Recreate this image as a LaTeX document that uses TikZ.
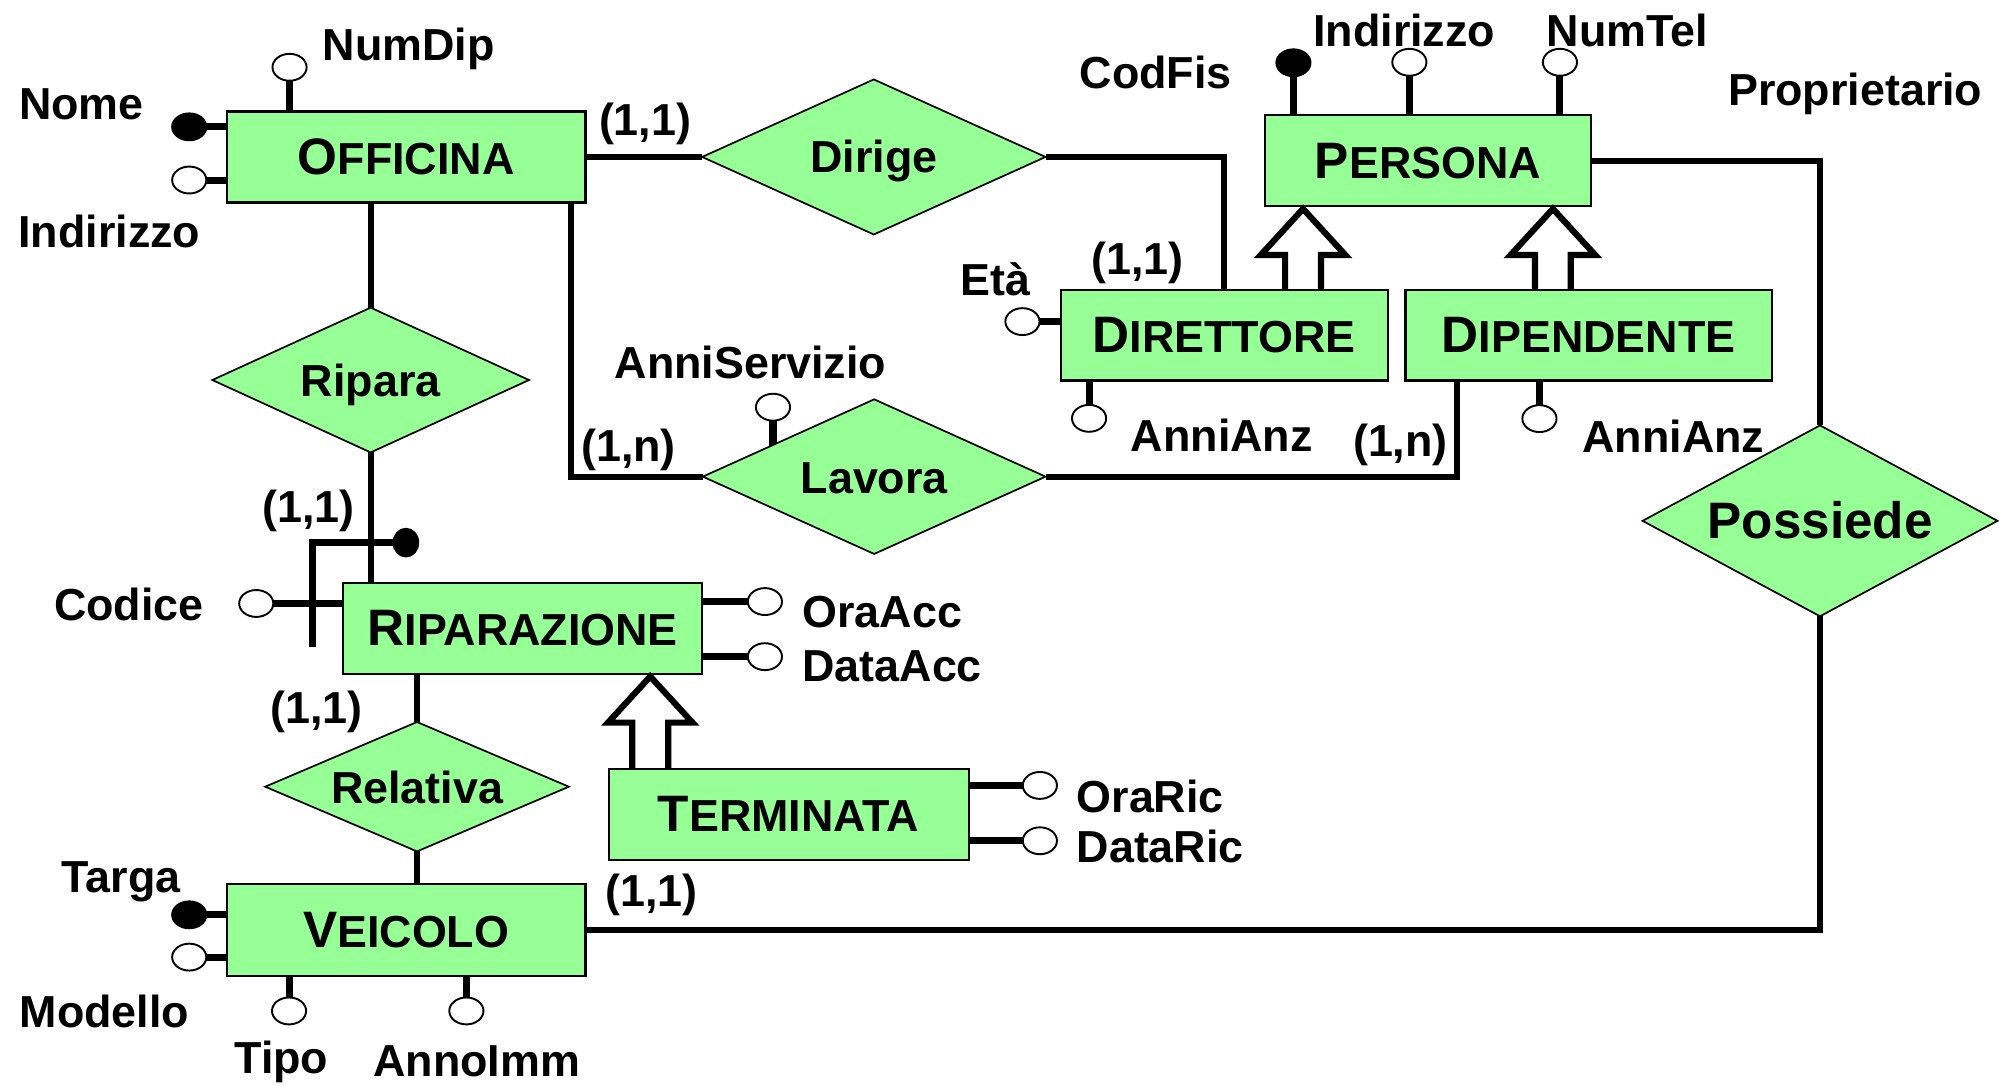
\documentclass[tikz,border=0pt]{standalone}
\usepackage{fontspec}
\setmainfont{Liberation Sans}
\usetikzlibrary{shapes.geometric,calc}
\pgfdeclarelayer{background}
\pgfsetlayers{background,main}
\definecolor{erfill}{RGB}{150,255,150}
% entity names: larger initial, smaller capitals after it
\newcommand{\entname}[2]{{\fontsize{24}{24}\selectfont #1}{\fontsize{21}{21}\selectfont #2}}
% hollow generalisation arrow: #1 = foot on the child, #2 = tip on the parent
\newcommand{\isaarrow}[2]{%
  \draw[isa] ($(#1)+(-14,0)$) |- ($(#2)+(-33,38)$) -- ($(#2)+(0,2)$)
    -- ($(#2)+(33,38)$) -| ($(#1)+(14,0)$);}

\begin{document}
\begin{tikzpicture}[x=0.6pt,y=-0.6pt,
  font=\bfseries\fontsize{21}{21}\selectfont,
  entity/.style={draw, line width=1pt, fill=erfill, rectangle, inner sep=0pt,
    outer sep=0pt, minimum height=42.6pt},
  relship/.style={draw, line width=0.8pt, fill=erfill, diamond, inner sep=0pt,
    outer sep=0pt},
  attrc/.style={draw, line width=0.9pt, fill=white, ellipse, inner sep=0pt,
    outer sep=0pt, minimum width=16pt, minimum height=12.6pt},
  idattr/.style={attrc, fill=black},
  conn/.style={line width=2.9pt, line join=miter},
  stub/.style={line width=3.3pt, line join=miter},
  isa/.style={line width=2.9pt, line join=miter, miter limit=10},
  lbl/.style={inner sep=0pt, anchor=base},
  lblw/.style={inner sep=0pt, anchor=base west},
]
\useasboundingbox (0,0) rectangle (1568,847);

% ---------- entities ----------
\node[entity, minimum width=168pt] (officina) at (317,122.5) {\entname{O}{FFICINA}};
\node[entity, minimum width=153pt] (persona) at (1114.5,125.5) {\entname{P}{ERSONA}};
\node[entity, minimum width=153pt] (direttore) at (955.5,261.5) {\entname{D}{IRETTORE}};
\node[entity, minimum width=171.6pt] (dipendente) at (1240,261.5) {\entname{D}{IPENDENTE}};
\node[entity, minimum width=168pt] (riparazione) at (408,490.5) {\entname{R}{IPARAZIONE}};
\node[entity, minimum width=168.6pt] (terminata) at (615.5,635.5) {\entname{T}{ERMINATA}};
\node[entity, minimum width=168pt, minimum height=43.2pt] (veicolo) at (317,726) {\entname{V}{EICOLO}};

% ---------- relationships ----------
\node[relship, minimum width=160.8pt, minimum height=72.6pt] (dirige) at (682,122.5) {};
\node[relship, minimum width=160.5pt, minimum height=72.4pt] (lavora) at (682.3,372) {};
\node[relship, minimum width=148.3pt, minimum height=67.8pt] (ripara) at (289.3,296.6) {};
\node[relship, minimum width=142.2pt, minimum height=60.6pt] (relativa) at (325.5,614) {};
\node[relship, minimum width=166.2pt, minimum height=89.4pt] (possiede) at (1420.5,406.5) {};

\node[lbl] at ($(dirige.center)+(0,12.5)$) {Dirige};
\node[lbl] at ($(lavora.center)+(0,13.5)$) {Lavora};
\node[lbl] at ($(ripara.center)+(0,12.5)$) {Ripara};
\node[lbl] at ($(relativa.center)+(0,13)$) {Relativa};
\node[lbl] at ($(possiede.center)+(0,14)$) {\fontsize{24}{24}\selectfont Possiede};

% ---------- attributes ----------
\node[attrc]  (numdip)  at (226,52.5) {};
\node[idattr] (nome)    at (147.7,99) {};
\node[attrc]  (indoff)  at (147.7,140.5) {};
\node[idattr] (codfis)  at (1009.5,49) {};
\node[attrc]  (indper)  at (1100,48.6) {};
\node[attrc]  (numtel)  at (1217.5,48.6) {};
\node[attrc]  (eta)     at (798,251) {};
\node[attrc]  (anzdir)  at (850,326.5) {};
\node[attrc]  (anzdip)  at (1201.5,326.7) {};
\node[attrc]  (anniserv) at (603.3,317.8) {};
\node[attrc]  (codice)  at (200,471) {};
\node[attrc]  (oraacc)  at (597,469.5) {};
\node[attrc]  (dataacc) at (597,512.5) {};
\node[attrc]  (oraric)  at (811.6,613) {};
\node[attrc]  (dataric) at (811.6,656.2) {};
\node[idattr] (targa)   at (147.7,714) {};
\node[attrc]  (modello) at (147.7,747) {};
\node[attrc]  (tipo)    at (225.6,789) {};
\node[attrc]  (annoimm) at (364,789) {};
% external identifier of RIPARAZIONE
\node[idattr, minimum width=11.6pt, minimum height=13pt] (ripid) at (316.8,423.5) {};
\coordinate (ripfoot) at (244,505);

% ---------- labels ----------
\node[lbl] at (319,47) {NumDip};
\node[lbl] at (63.5,93) {Nome};
\node[lbl] at (85.4,193) {Indirizzo};
\node[lbl] at (503.5,106) {(1,1)};
\node[lbl] at (902,69) {CodFis};
\node[lbl] at (1096,36.5) {Indirizzo};
\node[lbl] at (1270,36.5) {NumTel};
\node[lbl] at (1448,82) {Proprietario};
\node[lbl] at (777,231) {Età};
\node[lbl] at (888,214) {(1,1)};
\node[lbl] at (953.6,352) {AnniAnz};
\node[lbl] at (1093,356.5) {(1,n)};
\node[lbl] at (1306,353) {AnniAnz};
\node[lbl] at (585.7,295.3) {AnniServizio};
\node[lbl] at (490.6,360) {(1,n)};
\node[lbl] at (240.8,408) {(1,1)};
\node[lbl] at (100.6,484) {Codice};
\node[lblw] at (626,490) {OraAcc};
\node[lblw] at (626,532) {DataAcc};
\node[lblw] at (840,634) {OraRic};
\node[lblw] at (840,673.5) {DataRic};
\node[lbl] at (247,564.5) {(1,1)};
\node[lbl] at (94.4,696.5) {Targa};
\node[lbl] at (81.5,801.6) {Modello};
\node[lbl] at (219.6,838) {Tipo};
\node[lbl] at (372,840.5) {AnnoImm};
\node[lbl] at (508.5,707.5) {(1,1)};

% ---------- generalisations ----------
\coordinate (gdir) at (1017,0);
\coordinate (gdip) at (1212,0);
\coordinate (gter) at (507.5,0);
\isaarrow{gdir |- direttore.north}{gdir |- persona.south}
\isaarrow{gdip |- dipendente.north}{gdip |- persona.south}
\isaarrow{gter |- terminata.north}{gter |- riparazione.south}

% ---------- connectors and attribute stubs (behind the shapes) ----------
\begin{pgfonlayer}{background}
  \fill[white] (0,0) rectangle (1568,847);
  % relationships
  \draw[conn] (officina.east) -- (dirige.west);
  \draw[conn] (dirige.east) -| (direttore.north);
  \draw[conn] (persona.east) -| (possiede.north);
  \draw[conn] (possiede.south) |- (veicolo.east);
  \draw[conn] (officina.south -| ripara.north) -- (ripara.north);
  \draw[conn] (ripara.south) -- (ripara.south |- riparazione.north);
  \draw[conn] (lavora.west) -| ($(officina.south east)+(-11.6,0)$);
  \draw[conn] (lavora.east) -| ($(dipendente.south west)+(40,0)$);
  \draw[conn] (relativa.north) -- (relativa.north |- riparazione.south);
  \draw[conn] (relativa.south) -- (relativa.south |- veicolo.north);
  % attributes
  \draw[stub] (numdip) -- (numdip |- officina.center);
  \draw[stub] (nome) -- (nome -| officina.center);
  \draw[stub] (indoff) -- (indoff -| officina.center);
  \draw[stub] (codfis) -- (codfis |- persona.center);
  \draw[stub] (indper) -- (indper |- persona.center);
  \draw[stub] (numtel) -- (numtel |- persona.center);
  \draw[stub] (eta) -- (eta -| direttore.center);
  \draw[stub] (anzdir) -- (anzdir |- direttore.center);
  \draw[stub] (anzdip) -- (anzdip |- dipendente.center);
  \draw[stub] (anniserv) -- (anniserv |- lavora.center);
  \draw[stub] (codice) -- (codice -| riparazione.center);
  \draw[stub] (oraacc) -- (oraacc -| riparazione.center);
  \draw[stub] (dataacc) -- (dataacc -| riparazione.center);
  \draw[stub] (oraric) -- (oraric -| terminata.center);
  \draw[stub] (dataric) -- (dataric -| terminata.center);
  \draw[stub] (targa) -- (targa -| veicolo.center);
  \draw[stub] (modello) -- (modello -| veicolo.center);
  \draw[stub] (tipo) -- (tipo |- veicolo.center);
  \draw[stub] (annoimm) -- (annoimm |- veicolo.center);
  \draw[stub] (ripfoot) |- (ripid);
\end{pgfonlayer}
\end{tikzpicture}
\end{document}
